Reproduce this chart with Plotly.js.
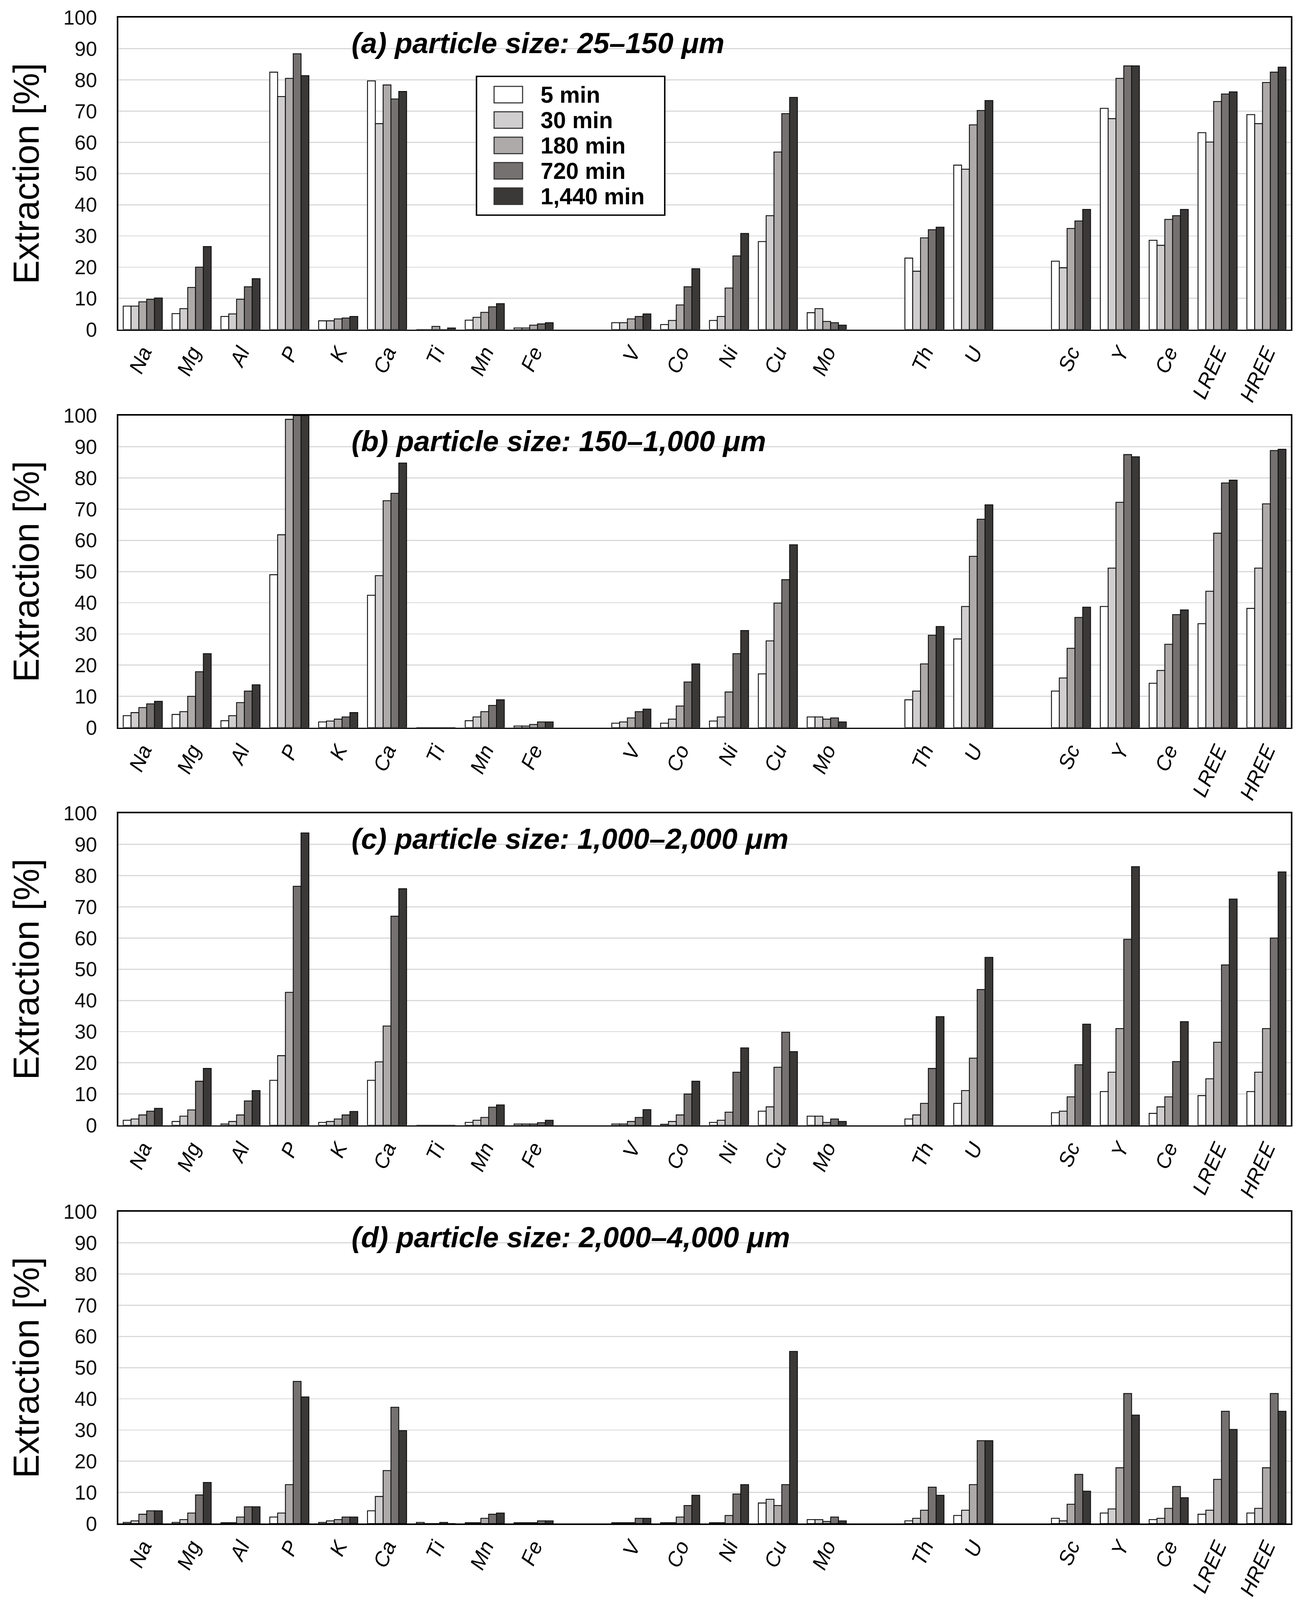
<!DOCTYPE html>
<html>
<head>
<meta charset="utf-8">
<script src="https://cdn.plot.ly/plotly-3.0.1.min.js"></script>
<style>html,body{margin:0;padding:0;background:#fff;overflow:hidden;}#chart{position:absolute;left:0;top:0;}</style>
</head>
<body>
<div id="chart"></div>
<script>
// ---------- DATA ----------
const elements = ['Na','Mg','Al','P','K','Ca','Ti','Mn','Fe','V','Co','Ni','Cu','Mo','Th','U','Sc','Y','Ce','LREE','HREE'];
const groupBreaksAfter = ['Fe','Mo','U'];
const seriesNames = ['5 min','30 min','180 min','720 min','1,440 min'];
const seriesColors = ['#FFFFFF','#D0CECE','#AEAAAA','#767171','#3B3838'];
const panelTitles = [
  '(a) particle size: 25\u2013150 \u03bcm',
  '(b) particle size: 150\u20131,000 \u03bcm',
  '(c) particle size: 1,000\u20132,000 \u03bcm',
  '(d) particle size: 2,000\u20134,000 \u03bcm'
];
const yTitle = 'Extraction [%]';

// (a) 25–150 µm
const a_5    = [7.5, 5.1, 4.2, 82.5, 2.8, 79.7, 0,   3.0, 0.5, 2.2, 1.6, 2.9, 28.2, 5.4, 22.9, 52.7, 21.9, 70.9, 28.6, 63.1, 68.9];
const a_30   = [7.5, 6.7, 5.0, 74.7, 2.8, 66.0, 0,   3.9, 0.5, 2.2, 2.9, 4.2, 36.5, 6.7, 18.7, 51.4, 19.8, 67.6, 27.0, 60.1, 66.0];
const a_180  = [8.9, 13.5, 9.7, 80.5, 3.4, 78.4, 1.0, 5.5, 1.4, 3.4, 7.9, 13.3, 56.9, 2.6, 29.4, 65.6, 32.4, 80.5, 35.3, 73.1, 79.2];
const a_720  = [9.7, 20.0, 13.7, 88.4, 3.7, 73.9, 0,  7.3, 1.8, 4.2, 13.7, 23.6, 69.2, 2.2, 32.0, 70.2, 34.8, 84.5, 36.5, 75.5, 82.5];
const a_1440 = [10.1, 26.6, 16.3, 81.4, 4.2, 76.3, 0.5, 8.3, 2.2, 5.0, 19.5, 30.8, 74.4, 1.4, 32.8, 73.4, 38.5, 84.5, 38.5, 76.2, 84.1];

// (b) 150–1,000 µm
const b_5    = [3.8, 4.2, 2.2, 49.0, 1.8, 42.4, 0, 2.2, 0.5, 1.4, 1.4, 2.1, 17.2, 3.4, 8.9, 28.4, 11.7, 38.8, 14.2, 33.3, 38.2];
const b_30   = [4.8, 5.1, 3.8, 61.8, 2.1, 48.7, 0, 3.4, 0.5, 1.8, 2.7, 3.4, 27.8, 3.4, 11.7, 38.8, 15.9, 51.1, 18.3, 43.7, 51.1];
const b_180  = [6.4, 10.0, 8.0, 98.8, 2.7, 72.7, 0, 5.1, 1.0, 3.1, 6.9, 11.4, 39.9, 2.7, 20.4, 54.9, 25.4, 72.2, 26.7, 62.3, 71.7];
const b_720  = [7.6, 17.9, 11.7, 100, 3.4, 75.1, 0, 7.1, 1.8, 5.1, 14.6, 23.7, 47.4, 3.1, 29.6, 66.8, 35.3, 87.5, 36.2, 78.4, 88.8];
const b_1440 = [8.4, 23.7, 13.7, 100, 4.8, 84.8, 0, 8.9, 1.8, 5.9, 20.4, 31.1, 58.6, 1.8, 32.4, 71.4, 38.6, 86.8, 37.7, 79.3, 89.2];

// (c) 1,000–2,000 µm
const c_5    = [1.6, 1.2, 0.4, 14.4, 0.9, 14.4, 0, 0.9, 0.4, 0.4, 0.3, 0.9, 4.5, 2.9, 2.0, 7.0, 4.0, 10.8, 3.8, 9.5, 10.8];
const c_30   = [2.0, 2.9, 1.2, 22.3, 1.2, 20.3, 0, 1.6, 0.4, 0.4, 1.2, 1.6, 5.9, 2.9, 3.3, 11.1, 4.5, 17.0, 5.9, 14.9, 17.0];
const c_180  = [3.3, 4.9, 3.3, 42.6, 2.0, 31.8, 0, 2.5, 0.4, 1.2, 3.3, 4.2, 18.6, 0.9, 7.0, 21.5, 9.1, 31.0, 9.1, 26.6, 31.0];
const c_720  = [4.5, 14.1, 7.8, 76.6, 3.3, 67.0, 0, 5.8, 0.8, 2.5, 10.0, 17.0, 29.8, 2.0, 18.2, 43.5, 19.4, 59.6, 20.4, 51.4, 60.0];
const c_1440 = [5.4, 18.2, 11.1, 93.7, 4.4, 75.8, 0, 6.5, 1.6, 5.0, 14.1, 24.8, 23.6, 1.2, 34.8, 53.8, 32.4, 82.9, 33.2, 72.5, 81.2];

// (d) 2,000–4,000 µm
const d_5    = [0.4, 0.4, 0.3, 2.1, 0.4, 4.1, 0.4, 0.3, 0.3, 0.3, 0.3, 0.3, 6.6, 1.3, 0.9, 2.6, 1.7, 3.4, 1.3, 3.0, 3.4];
const d_30   = [0.9, 1.3, 0.3, 3.4, 0.9, 8.7, 0, 0.3, 0.3, 0.3, 0.3, 0.3, 7.8, 1.3, 1.7, 4.3, 0.9, 4.7, 1.7, 4.3, 4.9];
const d_180  = [3.0, 3.4, 2.1, 12.5, 1.3, 17.0, 0, 1.7, 0.3, 0.3, 2.1, 2.6, 5.8, 0.7, 4.3, 12.5, 6.2, 17.9, 4.9, 14.2, 17.9];
const d_720  = [4.1, 9.2, 5.4, 45.6, 2.1, 37.3, 0.4, 3.0, 0.9, 1.7, 5.8, 9.5, 12.5, 2.1, 11.7, 26.6, 15.8, 41.7, 11.9, 36.0, 41.7];
const d_1440 = [4.1, 13.2, 5.4, 40.6, 2.1, 29.8, 0, 3.4, 0.9, 1.7, 9.1, 12.5, 55.2, 0.9, 9.1, 26.6, 10.4, 34.8, 8.3, 30.2, 36.0];

const panels = [
  [a_5, a_30, a_180, a_720, a_1440],
  [b_5, b_30, b_180, b_720, b_1440],
  [c_5, c_30, c_180, c_720, c_1440],
  [d_5, d_30, d_180, d_720, d_1440]
];

// ---------- LAYOUT GEOMETRY (design pixels, 3331 x 4462; scaled to the real viewport) ----------
const DW = 3331, DH = 4462;
const W = window.innerWidth || DW, H = window.innerHeight || DH;
const k = Math.min(W / DW, H / DH);          // line widths, rotated labels
const fs = Math.sqrt((W / DW) * (H / DH));   // horizontal text
const plotLeft = 303, plotRight = 3305;
const panelTops = [49, 1159, 2268, 3379];
const panelH = 870;
const FONT = 'Liberation Sans, Arial, sans-serif';

const chartDiv = document.getElementById('chart');
chartDiv.style.width = W + 'px';
chartDiv.style.height = H + 'px';

// category list with spacer slots between element groups
const categories = [];
let sp = 0;
elements.forEach(e => {
  categories.push(e);
  if (groupBreaksAfter.includes(e)) { sp++; categories.push(' '.repeat(sp)); }
});

const traces = [];
const layout = {
  width: W, height: H,
  margin: {l: 0, r: 0, t: 0, b: 0},
  paper_bgcolor: '#ffffff', plot_bgcolor: '#ffffff',
  barmode: 'group', bargap: 0.2, bargroupgap: 0,
  showlegend: false,
  font: {family: FONT, color: '#000'},
  shapes: [], annotations: []
};

panels.forEach((series, p) => {
  const xa = p === 0 ? 'x' : 'x' + (p + 1);
  const ya = p === 0 ? 'y' : 'y' + (p + 1);
  const xKey = p === 0 ? 'xaxis' : 'xaxis' + (p + 1);
  const yKey = p === 0 ? 'yaxis' : 'yaxis' + (p + 1);
  series.forEach((vals, s) => {
    traces.push({
      type: 'bar', name: seriesNames[s], xaxis: xa, yaxis: ya,
      x: categories,
      y: categories.map(c => { const i = elements.indexOf(c); return i < 0 ? null : vals[i]; }),
      marker: {color: seriesColors[s], line: {color: '#111', width: 2.5 * k}},
      hoverinfo: 'skip'
    });
  });
  const top = panelTops[p], bot = top + panelH;
  layout[xKey] = {
    domain: [plotLeft / DW, plotRight / DW], anchor: ya,
    type: 'category', categoryorder: 'array', categoryarray: categories,
    showline: true, linecolor: '#000', linewidth: 4 * k, mirror: true,
    showgrid: false, zeroline: false,
    ticks: 'outside', ticklen: 3 * k, tickcolor: 'rgba(0,0,0,0)',
    tickangle: -66,
    tickfont: {family: FONT, size: 58 * k, style: 'italic', color: '#000'}
  };
  layout[yKey] = {
    domain: [1 - bot / DH, 1 - top / DH], anchor: xa,
    range: [0, 100], dtick: 10, tick0: 0,
    showline: true, linecolor: '#000', linewidth: 4 * k, mirror: true,
    showgrid: true, gridcolor: '#D9D9D9', gridwidth: 3 * k, zeroline: false,
    ticks: 'outside', ticklen: 44 * k, tickcolor: 'rgba(0,0,0,0)',
    tickfont: {family: FONT, size: 54 * fs, color: '#111'},
    title: {text: yTitle, font: {family: FONT, size: 100 * k, color: '#000'}, standoff: 36 * k}
  };
  layout.annotations.push({
    text: panelTitles[p], showarrow: false,
    xref: 'paper', x: 898 / DW, xanchor: 'left',
    yref: ya + ' domain', y: 1 - 71 / panelH, yanchor: 'middle',
    font: {family: FONT, size: 77 * fs, weight: 'bold', style: 'italic', color: '#000'}
  });
});

// legend drawn in panel (a)
const lg = {x0: 1220, y0: 213, x1: 1702, y1: 600, swX: 1265, swW: 73, swH: 46, row0: 264, rowStep: 70.8, textX: 1382};
layout.shapes.push({type: 'rect', xref: 'paper', yref: 'paper', layer: 'above',
  x0: lg.x0 / DW, x1: lg.x1 / DW, y0: 1 - lg.y1 / DH, y1: 1 - lg.y0 / DH,
  fillcolor: '#fff', line: {color: '#000', width: 4 * k}});
seriesNames.forEach((n, i) => {
  const cy = lg.row0 + i * lg.rowStep;
  layout.shapes.push({type: 'rect', xref: 'paper', yref: 'paper', layer: 'above',
    x0: lg.swX / DW, x1: (lg.swX + lg.swW) / DW,
    y0: 1 - (cy + lg.swH / 2) / DH, y1: 1 - (cy - lg.swH / 2) / DH,
    fillcolor: seriesColors[i], line: {color: '#333', width: 3 * k}});
  layout.annotations.push({text: n, showarrow: false, xref: 'paper', yref: 'paper',
    x: lg.textX / DW, xanchor: 'left', y: 1 - cy / DH, yanchor: 'middle',
    font: {family: FONT, size: 61 * fs, weight: 'bold', color: '#000'}});
});

Plotly.newPlot('chart', traces, layout, {staticPlot: true, displayModeBar: false});
</script>
</body>
</html>
